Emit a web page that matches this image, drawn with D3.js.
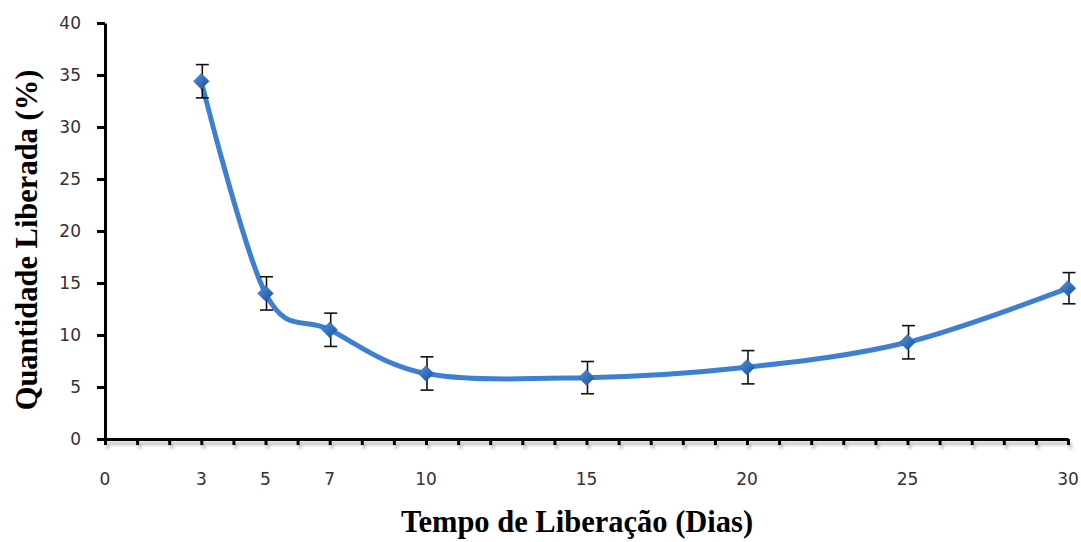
<!DOCTYPE html>
<html>
<head>
    <meta charset="utf-8">
    <script src="https://d3js.org/d3.v7.min.js"></script>
    <style>
        body { margin: 0; background: #fff; }
        .tick-label { font-family: "DejaVu Sans", sans-serif; font-size: 17px; fill: #352f2f; }
        .axis-title { font-family: "Liberation Serif", "Times New Roman", serif; font-weight: bold; font-size: 30.5px; fill: #000; }
    </style>
</head>
<body>
<div id="chart"></div>
<script>
    // data
    var days = [3, 5, 7, 10, 15, 20, 25, 30];
    var released = [34.4, 14.0, 10.5, 6.3, 5.9, 6.9, 9.3, 14.5];
    var errors = [1.6, 1.6, 1.6, 1.6, 1.55, 1.6, 1.6, 1.5];
    var xTickLabels = [0, 3, 5, 7, 10, 15, 20, 25, 30];
    var yTickLabels = [0, 5, 10, 15, 20, 25, 30, 35, 40];

    var W = 1081, H = 542;
    var margin = { top: 23, right: 13, bottom: 103, left: 105 };
    var width = W - margin.left - margin.right,
        height = H - margin.top - margin.bottom;

    var svg = d3.select("#chart").append("svg")
        .attr("width", W)
        .attr("height", H);

    var defs = svg.append("defs");
    var shadow = defs.append("filter").attr("id", "axisShadow")
        .attr("x", "-5%").attr("y", "-100%").attr("width", "110%").attr("height", "400%");
    shadow.append("feDropShadow")
        .attr("dx", 2).attr("dy", 4).attr("stdDeviation", 1.6)
        .attr("flood-color", "#000").attr("flood-opacity", 0.25);

    var grad = defs.append("linearGradient").attr("id", "markerGrad")
        .attr("x1", "0%").attr("y1", "0%").attr("x2", "100%").attr("y2", "100%");
    grad.append("stop").attr("offset", "0%").attr("stop-color", "#5b97dd");
    grad.append("stop").attr("offset", "50%").attr("stop-color", "#3271bd");
    grad.append("stop").attr("offset", "100%").attr("stop-color", "#1d4f8f");

    var g = svg.append("g")
        .attr("transform", "translate(" + margin.left + "," + margin.top + ")");

    var x = d3.scaleLinear().domain([0, 30]).range([0, width]);
    var y = d3.scaleLinear().domain([0, 40]).range([height, 0]);

    // X axis: a tick at every day, labels only on some
    var xAxis = g.append("g")
        .attr("transform", "translate(0," + height + ")")
        .attr("filter", "url(#axisShadow)")
        .call(d3.axisBottom(x).tickValues(d3.range(0, 31)).tickSize(6).tickSizeOuter(0).tickFormat(""));
    xAxis.select(".domain").attr("stroke", "#000").attr("stroke-width", 3);
    xAxis.selectAll(".tick line").attr("stroke", "#000").attr("stroke-width", 3);

    g.append("g").selectAll("text")
        .data(xTickLabels)
        .enter().append("text")
        .attr("class", "tick-label")
        .attr("x", function (d) { return x(d); })
        .attr("y", height + 46)
        .attr("text-anchor", "middle")
        .text(function (d) { return d; });

    // Y axis
    var yAxis = g.append("g")
        .call(d3.axisLeft(y).tickValues(yTickLabels).tickSize(8).tickSizeOuter(0).tickFormat(""));
    yAxis.select(".domain").attr("stroke", "#000").attr("stroke-width", 3);
    yAxis.selectAll(".tick line").attr("stroke", "#000").attr("stroke-width", 3);

    g.append("g").selectAll("text")
        .data(yTickLabels)
        .enter().append("text")
        .attr("class", "tick-label")
        .attr("x", -24)
        .attr("y", function (d) { return y(d); })
        .attr("dy", "0.36em")
        .attr("text-anchor", "end")
        .text(function (d) { return d; });

    // axis titles
    svg.append("text")
        .attr("class", "axis-title")
        .attr("x", 577)
        .attr("y", 532)
        .attr("text-anchor", "middle")
        .text("Tempo de Liberação (Dias)");

    svg.append("text")
        .attr("class", "axis-title")
        .attr("transform", "translate(37,240) rotate(-90)")
        .attr("text-anchor", "middle")
        .text("Quantidade Liberada (%)");

    var data = days.map(function (d, i) { return { day: d, val: released[i], err: errors[i] }; });

    // smoothed line
    var line = d3.line()
        .x(function (d) { return x(d.day); })
        .y(function (d) { return y(d.val); })
        .curve(d3.curveCardinal.tension(0));

    g.append("path")
        .datum(data)
        .attr("fill", "none")
        .attr("stroke", "#3d7fd0")
        .attr("stroke-width", 5)
        .attr("stroke-linecap", "round")
        .attr("d", line);

    // error bars
    var eb = g.append("g").selectAll("g")
        .data(data)
        .enter().append("g")
        .attr("stroke", "#111")
        .attr("stroke-width", 1.6);
    eb.append("line")
        .attr("x1", function (d) { return x(d.day) + 1; })
        .attr("x2", function (d) { return x(d.day) + 1; })
        .attr("y1", function (d) { return y(d.val + d.err); })
        .attr("y2", function (d) { return y(d.val - d.err); });
    eb.append("line")
        .attr("x1", function (d) { return x(d.day) - 5.5; })
        .attr("x2", function (d) { return x(d.day) + 7.5; })
        .attr("y1", function (d) { return y(d.val + d.err); })
        .attr("y2", function (d) { return y(d.val + d.err); });
    eb.append("line")
        .attr("x1", function (d) { return x(d.day) - 5.5; })
        .attr("x2", function (d) { return x(d.day) + 7.5; })
        .attr("y1", function (d) { return y(d.val - d.err); })
        .attr("y2", function (d) { return y(d.val - d.err); });

    // diamond markers
    g.append("g").selectAll("path")
        .data(data)
        .enter().append("path")
        .attr("transform", function (d) { return "translate(" + x(d.day) + "," + y(d.val) + ")"; })
        .attr("d", d3.symbol().type(d3.symbolDiamond2).size(150))
        .attr("fill", "url(#markerGrad)")
        .attr("stroke", "#2d66ad")
        .attr("stroke-width", 0.8);
</script>
</body>
</html>
